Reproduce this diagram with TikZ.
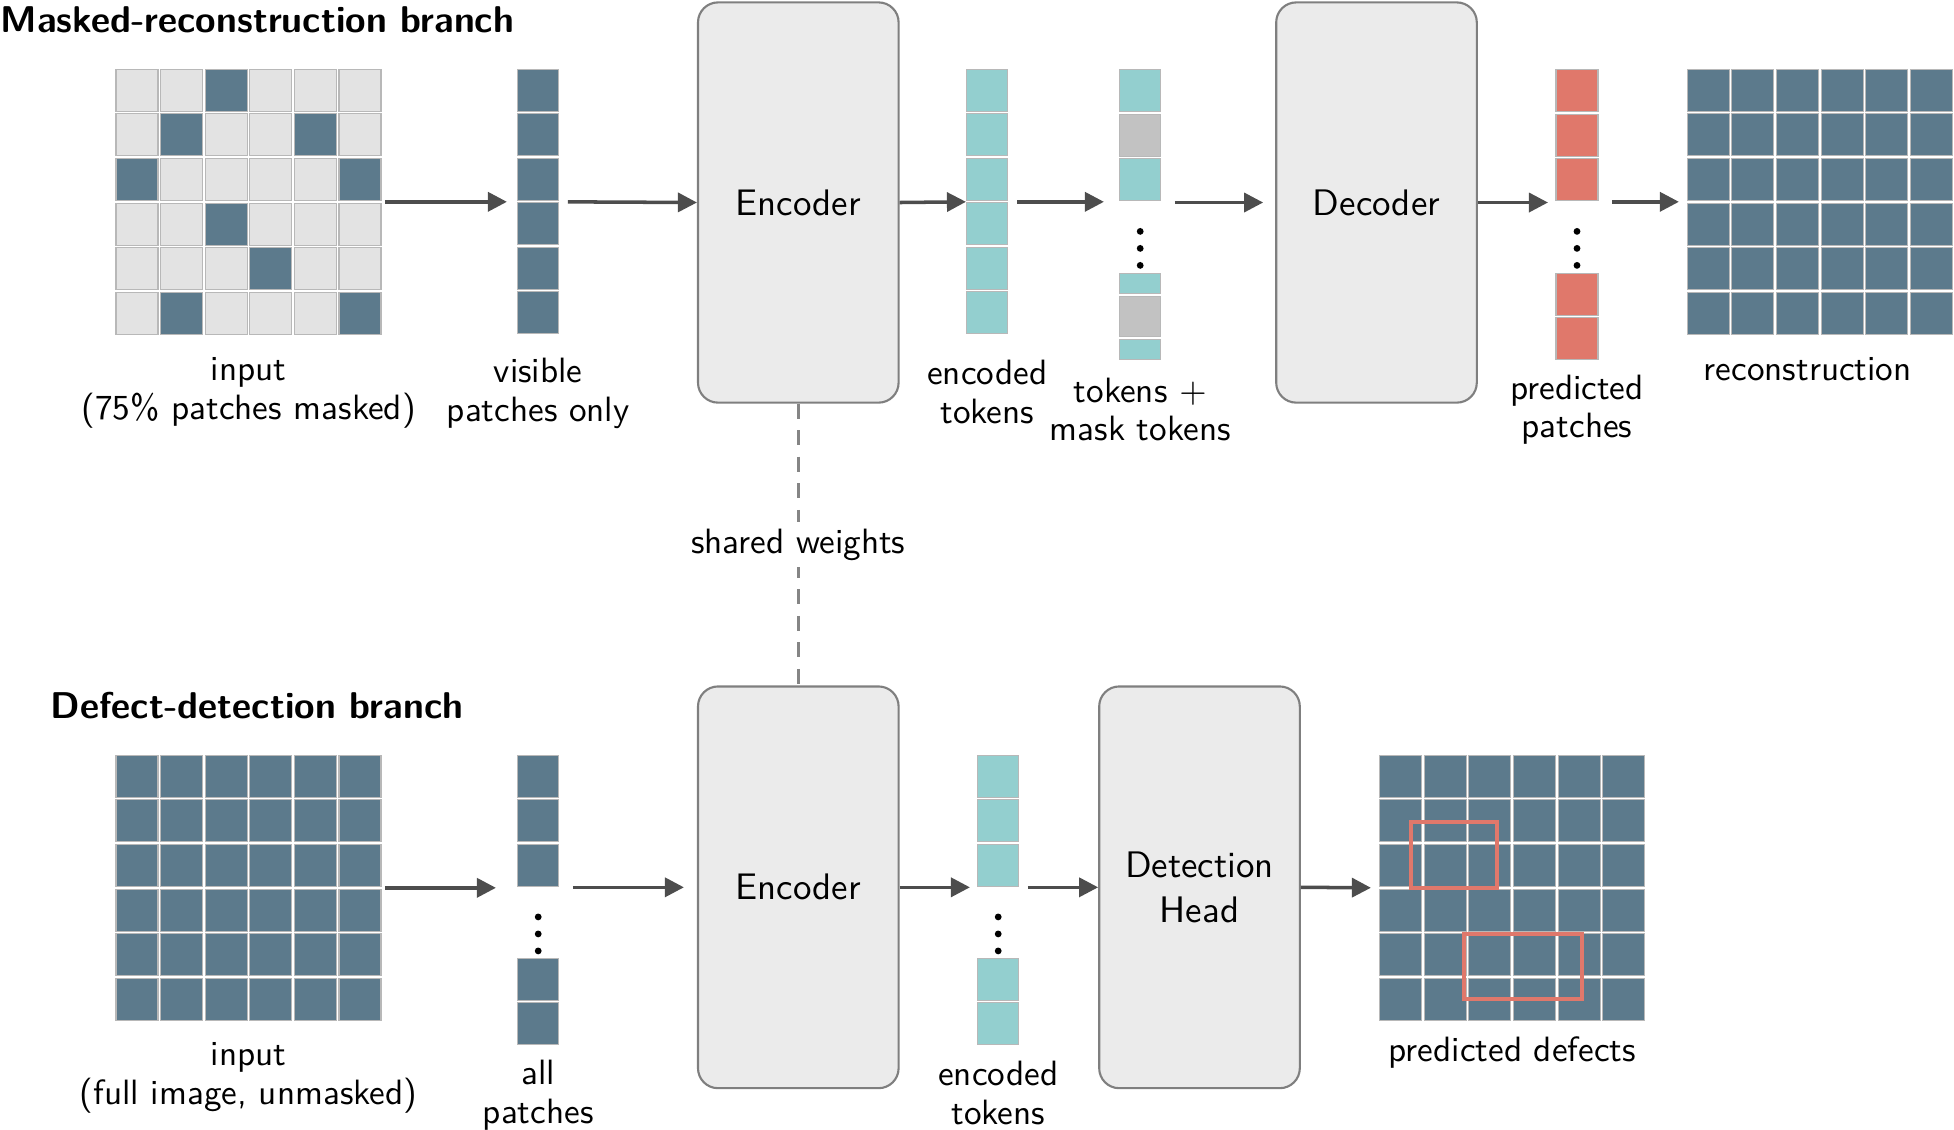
\documentclass[tikz,border=0pt]{standalone}
\usepackage{fontspec}
\renewcommand\familydefault{\sfdefault}
\usetikzlibrary{positioning, arrows.meta}

\definecolor{patchblue}{HTML}{5C7A8C}
\definecolor{patchgrey}{HTML}{E3E3E3}
\definecolor{tokteal}{HTML}{93CFCF}
\definecolor{maskgrey}{HTML}{C2C2C2}
\definecolor{predred}{HTML}{E0786B}
\definecolor{boxfill}{HTML}{EBEBEB}
\definecolor{boxline}{HTML}{7F7F7F}
\definecolor{arrowgrey}{HTML}{4D4D4D}

\begin{document}
\begin{tikzpicture}[
    x=0.01cm, y=-0.01cm,
    block/.style={
      rectangle, draw=boxline, fill=boxfill, line width=0.6pt,
      rounded corners=0.2cm, minimum width=2.005cm, minimum height=4.0cm,
      align=center, font=\fontsize{10.5}{12.8}\selectfont
    },
    grid/.style={rectangle, inner sep=0pt, outer sep=0pt, minimum size=2.676cm},
    col/.style={rectangle, inner sep=0pt, outer sep=0pt, minimum width=0.425cm},
    cell/.style={draw=black!28, line width=0.3pt},
    lbl/.style={align=center, inner sep=1pt, font=\fontsize{10}{11}\selectfont},
    head/.style={anchor=west, inner sep=0pt, font=\fontsize{10.6}{12}\selectfont\bfseries},
    arr/.style={-{Triangle[length=0.19cm, width=0.19cm]}, draw=arrowgrey, line width=1pt},
    shared/.style={draw=black!48, line width=1pt, dash pattern=on 0.15cm off 0.115cm},
    defect/.style={draw=predred, line width=0.04cm}
  ]
  \useasboundingbox (0,0) rectangle (1954,1129);

  % branch titles
  \node[head] (mrb) at (0,20) {Masked-reconstruction branch};
  \node[head] (ddb) at (50,706) {Defect-detection branch};

  % masked-reconstruction branch
  \node[grid] (inp) at (248.6,201.8) {};
  \node[col, minimum height=2.676cm] (vis) at (538.2,201.8) {};
  \node[block] (enc1) at (798.3,202.5) {Encoder};
  \node[col, minimum height=2.676cm] (etk1) at (987.2,201.8) {};
  \node[col, minimum height=2.921cm] (mtk) at (1140.2,214.5) {};
  \node[block] (dec) at (1376.5,202.5) {Decoder};
  \node[col, minimum width=0.44cm, minimum height=2.921cm] (prd) at (1577,214.5) {};
  \node[grid] (rec) at (1819.8,201.8) {};

  \node[lbl, below=0.18cm of inp] (inpl) {input\\(75\% patches masked)};
  \node[lbl, below=0.18cm of vis] (visl) {visible\\patches only};
  \node[lbl, below=0.2cm of etk1] (etk1l) {encoded\\tokens};
  \node[lbl, below=0.13cm of mtk] (mtkl) {tokens $+$\\mask tokens};
  \node[lbl, below=0.1cm of prd] (prdl) {predicted\\patches};
  \node[lbl, below=0.18cm of rec, xshift=-0.12cm] (recl) {reconstruction};

  % defect-detection branch
  \node[grid] (full) at (248.6,887.8) {};
  \node[col, minimum height=2.912cm] (allp) at (538.2,899.6) {};
  \node[block, minimum height=4.015cm] (enc2) at (798.3,887.3) {Encoder};
  \node[col, minimum height=2.912cm] (etk2) at (998.2,899.6) {};
  \node[block, minimum height=4.015cm] (dhd) at (1199.5,887.3) {Detection\\Head};
  \node[grid] (det) at (1512.3,887.8) {};

  \node[lbl, below=0.17cm of full] (fulll) {input\\(full image, unmasked)};
  \node[lbl, below=0.11cm of allp] (allpl) {all\\patches};
  \node[lbl, below=0.12cm of etk2] (etk2l) {encoded\\tokens};
  \node[lbl, below=0.11cm of det] (detl) {predicted defects};

  % patch grids
  \begin{scope}[shift={(inp.north west)}]
    \foreach \r in {0,...,5}
      \foreach \c in {0,...,5}
        \draw[cell, fill=patchgrey] (\c*44.6+1.3,\r*44.6+1.3) rectangle ++(42,42);
    \foreach \c/\r in {2/0,1/1,4/1,0/2,5/2,2/3,3/4,1/5,5/5}
      \draw[cell, fill=patchblue] (\c*44.6+1.3,\r*44.6+1.3) rectangle ++(42,42);
  \end{scope}
  \foreach \g in {rec,full,det}{
    \begin{scope}[shift={(\g.north west)}]
      \foreach \r in {0,...,5}
        \foreach \c in {0,...,5}
          \draw[cell, fill=patchblue] (\c*44.6+1.3,\r*44.6+1.3) rectangle ++(42,42);
    \end{scope}
  }
  \begin{scope}[shift={(det.north west)}]
    \draw[defect] (33,68) rectangle (119,134);
    \draw[defect] (85.5,180) rectangle (203.5,245);
  \end{scope}

  % token columns
  \begin{scope}[shift={(vis.north west)}]
    \foreach \k in {0,...,5}
      \draw[cell, fill=patchblue] (1,\k*44.5+1.2) rectangle ++(40.5,42.1);
  \end{scope}
  \begin{scope}[shift={(etk1.north west)}]
    \foreach \k in {0,...,5}
      \draw[cell, fill=tokteal] (1,\k*44.5+1.2) rectangle ++(40.5,42.1);
  \end{scope}
  \begin{scope}[shift={(mtk.north west)}]
    \foreach \t/\h/\f in {0/44.5/tokteal,44.5/44.5/maskgrey,89/44.5/tokteal,
                          203.5/23/tokteal,226.5/43/maskgrey,269.5/22.5/tokteal}
      \draw[cell, fill=\f] (1,\t+1.2) rectangle ++(40.5,\h-2.4);
  \end{scope}
  \begin{scope}[shift={(prd.north west)}]
    \foreach \t in {0,44.5,89,203.5,248}
      \draw[cell, fill=predred] (1,\t+1.2) rectangle ++(42,42.1);
  \end{scope}
  \begin{scope}[shift={(allp.north west)}]
    \foreach \t in {0,44.5,89,203,247.5}
      \draw[cell, fill=patchblue] (1,\t+1.2) rectangle ++(40.5,42.1);
  \end{scope}
  \begin{scope}[shift={(etk2.north west)}]
    \foreach \t in {0,44.5,89,203,247.5}
      \draw[cell, fill=tokteal] (1,\t+1.2) rectangle ++(40.5,42.1);
  \end{scope}
  \foreach \c in {mtk,prd,allp,etk2}
    \foreach \d in {163,180,197}
      \fill (\c.north) ++(0,\d) circle[radius=0.034cm];

  % connectors
  \draw[arr, shorten <=0.024cm, shorten >=0.1cm] (inp.east) -- (vis.west);
  \draw[arr, shorten <=0.085cm] (vis.east) -- (enc1.west);
  \draw[arr] (enc1.east) -- (etk1.west);
  \draw[arr, shorten <=0.09cm, shorten >=0.15cm] (etk1.east) -- (etk1.east -| mtk.west);
  \draw[arr, shorten <=0.135cm, shorten >=0.12cm] (mtk.east |- dec.west) -- (dec.west);
  \draw[arr, shorten >=0.07cm] (dec.east) -- (dec.east -| prd.west);
  \draw[arr, shorten <=0.13cm, shorten >=0.07cm] (prd.east |- rec.west) -- (rec.west);

  \draw[arr, shorten <=0.024cm, shorten >=0.21cm] (full.east) -- (full.east -| allp.west);
  \draw[arr, shorten <=0.135cm, shorten >=0.13cm] (allp.east |- enc2.west) -- (enc2.west);
  \draw[arr, shorten >=0.07cm] (enc2.east) -- (enc2.east -| etk2.west);
  \draw[arr, shorten <=0.085cm] (etk2.east |- dhd.west) -- (dhd.west);
  \draw[arr, shorten >=0.075cm] (dhd.east) -- (det.west);

  \draw[shared] (enc1.south) -- node[lbl, fill=white, inner sep=2pt] (shw) {shared weights} (enc2.north);
\end{tikzpicture}
\end{document}
